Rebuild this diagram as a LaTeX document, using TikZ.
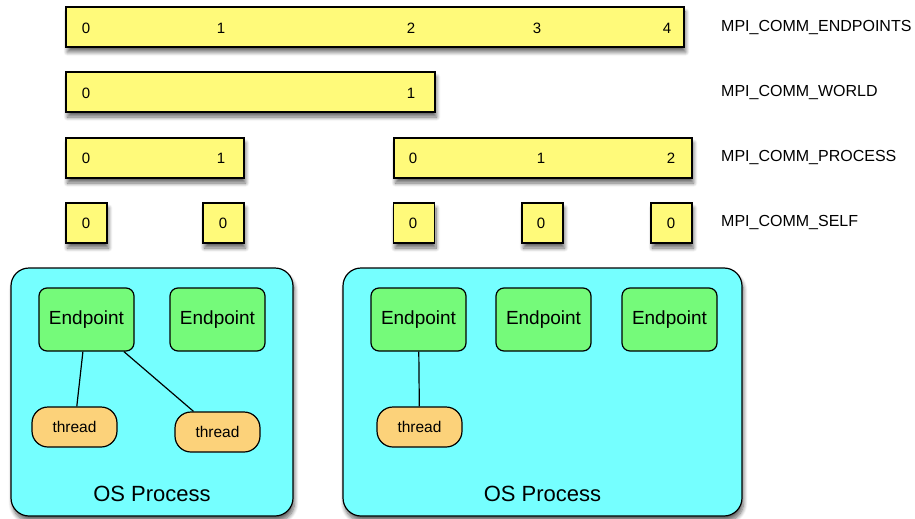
\documentclass[tikz,border=0pt]{standalone}
\usepackage{fontspec}
\setmainfont{Liberation Sans}
\usepackage{xcolor}
\usetikzlibrary{arrows.meta, positioning, calc, shadows.blur}

\definecolor{commyellow}{RGB}{255,250,122}
\definecolor{proccyan}{RGB}{117,255,255}
\definecolor{epgreen}{RGB}{117,250,122}
\definecolor{thrdorange}{RGB}{252,210,122}

\tikzset{
    shade/.style={blur shadow={shadow xshift=1.5pt, shadow yshift=-5pt, shadow blur radius=4pt,
        shadow blur steps=8, shadow opacity=60}},
    commbar/.style={rectangle, draw, line width=1.2pt, fill=commyellow, shade,
        minimum height=40pt, inner sep=0pt},
    num/.style={font=\fontsize{15}{17}\selectfont, inner sep=0pt},
    commname/.style={anchor=west, font=\fontsize{16}{18}\selectfont, inner sep=0pt},
    procbox/.style={rectangle, rounded corners=18pt, draw, line width=1.2pt, fill=proccyan, shade,
        minimum width=#1, minimum height=248pt, inner sep=0pt},
    endpt/.style={rectangle, rounded corners=8pt, draw, line width=1.2pt, fill=epgreen,
        minimum width=95pt, minimum height=63pt, inner sep=0pt, font=\fontsize{19}{22}\selectfont},
    thrd/.style={rectangle, rounded corners=16pt, draw, line width=1.2pt, fill=thrdorange,
        minimum width=85pt, minimum height=40pt, inner sep=0pt, font=\fontsize{15.5}{18}\selectfont},
    proclabel/.style={font=\fontsize{22}{26}\selectfont, inner sep=0pt}
}

\begin{document}
\begin{tikzpicture}[x=1pt, y=-1pt]
    \useasboundingbox (0,0) rectangle (915,519);

    % communicators
    \node[commbar, minimum width=618pt] (endpts) at (375,27) {};
    \node[commbar, minimum width=369pt] (world) at (250.5,92) {};
    \node[commbar, minimum width=178pt] (procA) at (155,158) {};
    \node[commbar, minimum width=298pt] (procB) at (543,158) {};
    \foreach \x [count=\i] in {86.5, 223.5, 414, 542.5, 671.5}
        \node[commbar, minimum width=41pt] (self\i) at (\x,223) {};

    % ranks
    \foreach \x/\r [count=\i] in {86/0, 221/1, 411/2, 537/3, 667/4}
        \node[num] (ernk\i) at (\x,28) {\r};
    \node[num] (wrnk1) at (86,93) {0};
    \node[num] (wrnk2) at (411,93) {1};
    \foreach \x/\r [count=\i] in {86/0, 221/1, 413/0, 541/1, 671/2}
        \node[num] (prnk\i) at (\x,158) {\r};
    \foreach \x [count=\i] in {86, 223, 413, 541, 671}
        \node[num] (srnk\i) at (\x,223) {0};

    \node[commname] (lblends) at (721,28) {MPI\_COMM\_ENDPOINTS};
    \node[commname] (lblworld) at (721,93) {MPI\_COMM\_WORLD};
    \node[commname] (lblproc) at (721,158) {MPI\_COMM\_PROCESS};
    \node[commname] (lblself) at (721,223) {MPI\_COMM\_SELF};

    % processes
    \node[procbox=282pt] (osA) at (152,392) {};
    \node[procbox=399pt] (osB) at (542.5,392) {};
    \node[proclabel] (osAtxt) at (152,494) {OS Process};
    \node[proclabel] (osBtxt) at (542.5,494) {OS Process};

    \node[endpt] (epA1) at (86.5,319.5) {Endpoint};
    \node[endpt] (epA2) at (217.5,319.5) {Endpoint};
    \node[endpt] (epB1) at (418.5,319.5) {Endpoint};
    \node[endpt] (epB2) at (543.5,319.5) {Endpoint};
    \node[endpt] (epB3) at (669.5,319.5) {Endpoint};

    \node[thrd] (thA1) at (74.5,427) {thread};
    \node[thrd] (thA2) at (217.5,432) {thread};
    \node[thrd] (thB1) at (419.5,427) {thread};

    \draw[line width=1.2pt] (epA1) -- (thA1);
    \draw[line width=1.2pt] (epA1) -- (thA2);
    \draw[line width=1.2pt] (epB1) -- (thB1);
\end{tikzpicture}
\end{document}
